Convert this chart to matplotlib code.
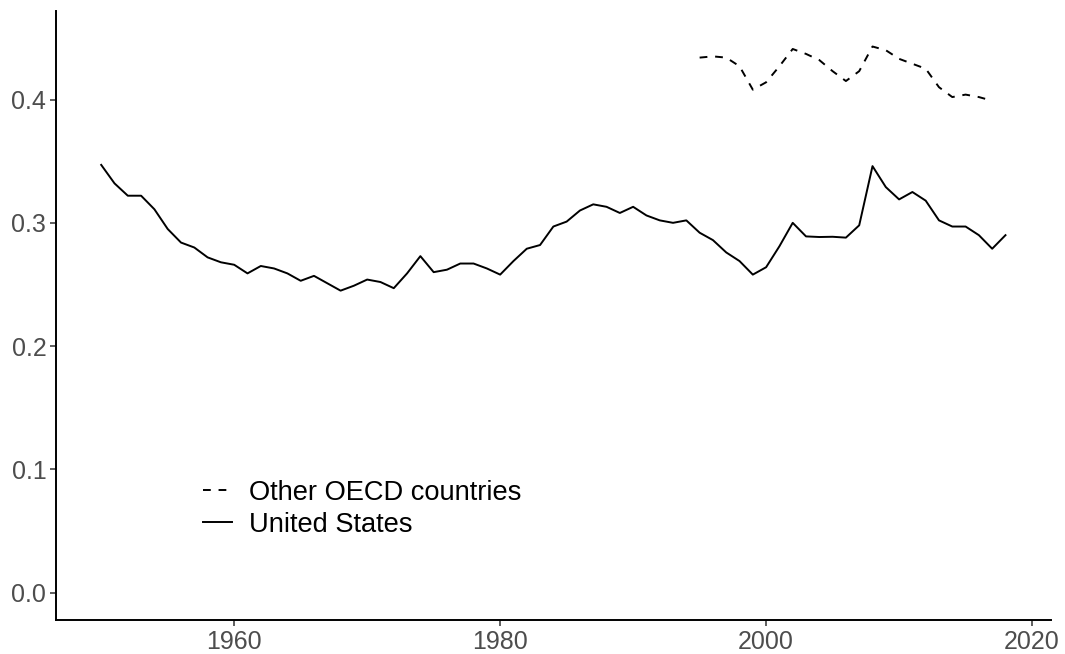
import numpy as np
import matplotlib
matplotlib.use("Agg")
import matplotlib.pyplot as plt

plt.rcParams['font.family'] = ['Liberation Sans', 'DejaVu Sans']

# United States, 1950-2018
us_years = list(range(1950, 2019))
us_values = [
    0.347, 0.332, 0.322, 0.322, 0.311, 0.295, 0.284, 0.280, 0.272, 0.268,
    0.266, 0.259, 0.265, 0.263, 0.259, 0.253, 0.257, 0.251, 0.245, 0.249,
    0.254, 0.252, 0.247, 0.259, 0.273, 0.260, 0.262, 0.267, 0.267, 0.263,
    0.258, 0.269, 0.279, 0.282, 0.297, 0.301, 0.310, 0.315, 0.313, 0.308,
    0.313, 0.306, 0.302, 0.300, 0.302, 0.292, 0.286, 0.276, 0.269, 0.258,
    0.264, 0.281, 0.300, 0.289, 0.2885, 0.2887, 0.288, 0.298, 0.346, 0.329,
    0.319, 0.325, 0.318, 0.302, 0.297, 0.297, 0.290, 0.279, 0.290,
]

# Other OECD countries, 1995-2017
oecd_years = list(range(1995, 2018))
oecd_values = [
    0.434, 0.435, 0.434, 0.427, 0.408, 0.414, 0.427, 0.441, 0.437, 0.432,
    0.423, 0.415, 0.423, 0.443, 0.440, 0.433, 0.429, 0.425, 0.410, 0.402,
    0.404, 0.402, 0.399,
]

fig = plt.figure(figsize=(10.65, 6.54), dpi=100)
ax = fig.add_axes([56 / 1065, 34 / 654, (1050.7 - 56) / 1065, (620 - 11) / 654])

ax.plot(oecd_years, oecd_values, color='black', lw=1.4, linestyle=(0, (4, 4)),
        label='Other OECD countries')
ax.plot(us_years, us_values, color='black', lw=1.4, linestyle='-',
        label='United States')

ax.set_xlim(1946.6, 2021.4)
ax.set_ylim(-0.0221, 0.4718)
ax.set_xticks([1960, 1980, 2000, 2020])
ax.set_yticks([0.0, 0.1, 0.2, 0.3, 0.4])
ax.set_yticklabels(['0.0', '0.1', '0.2', '0.3', '0.4'])

for s in ['top', 'right']:
    ax.spines[s].set_visible(False)
for s in ['left', 'bottom']:
    ax.spines[s].set_linewidth(1.4)
    ax.spines[s].set_color('black')

ax.tick_params(axis='both', length=4, width=1.1, color='#333333',
               labelsize=18, labelcolor='#4D4D4D', pad=3)

# legend inside the plot, lower left
ax.legend(loc='upper left', bbox_to_anchor=(203 / 1065, (654 - 480) / 654),
          bbox_transform=fig.transFigure, frameon=False, fontsize=19.6,
          handlelength=1.07, handletextpad=0.63, labelspacing=0.22,
          borderpad=0, borderaxespad=0)

fig.savefig('out.png', dpi=100)
